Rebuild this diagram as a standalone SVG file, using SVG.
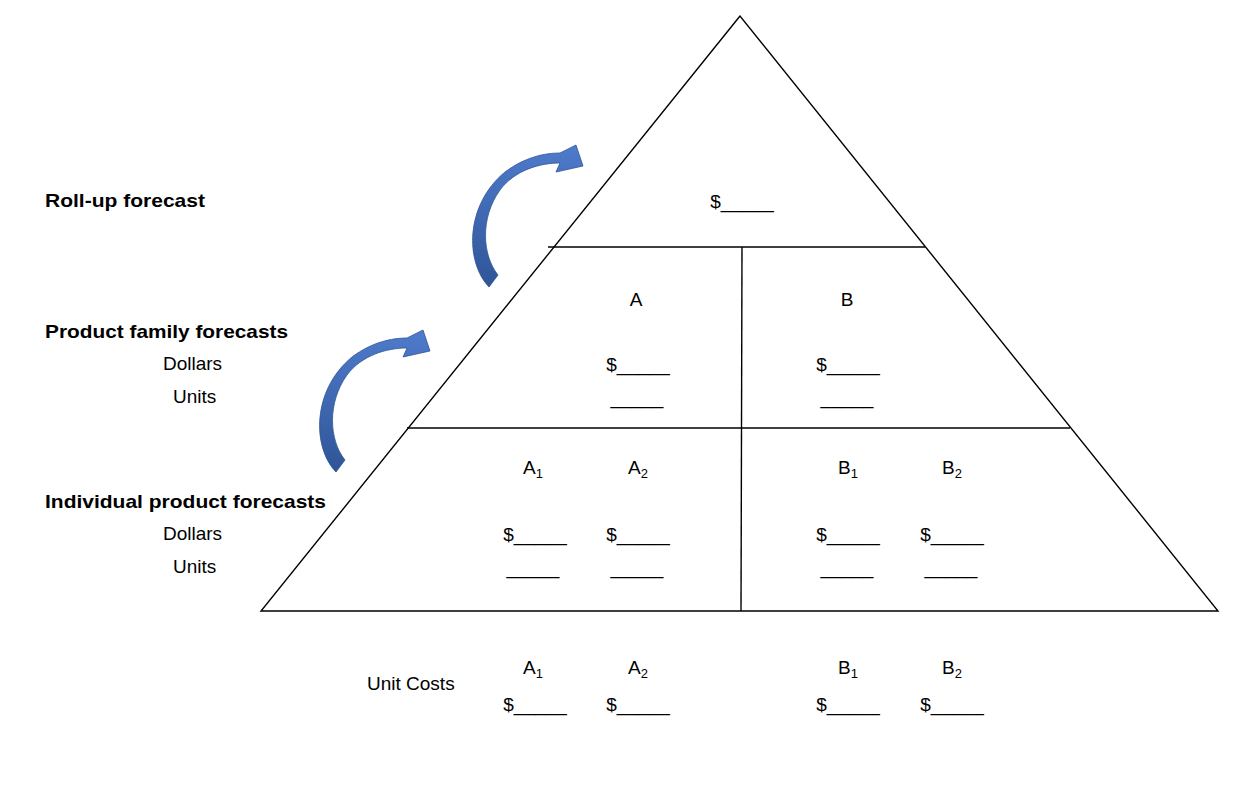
<svg xmlns="http://www.w3.org/2000/svg" width="1258" height="806" viewBox="0 0 1258 806">
<style>
text{font-family:"Liberation Sans",Arial,sans-serif;font-size:19px;fill:#000}
.c{text-anchor:middle}
.b{font-weight:bold}
.s{font-size:13px}
line,polygon.t{stroke:#000;stroke-width:1.4;fill:none}
</style>
<defs>
<linearGradient id="g" x1="0" y1="0" x2="0" y2="1">
<stop offset="0" stop-color="#4f7bcc"/><stop offset="1" stop-color="#2f5597"/>
</linearGradient>
<path id="arr" d="M489,287 C465,262 465,205 505,172 C525,157 545,153 560,153 L576,145 L583,166 L556,172 L560,163 C540,163 515,170 500,190 C480,218 482,255 498,275 Z" fill="url(#g)" stroke="#2f5597" stroke-width="0.8"/>
</defs>
<rect width="1258" height="806" fill="#fff"/>
<g id="pyramid">
<polygon class="t" points="740,16 261,611 1218,611"/>
<line x1="548" y1="247" x2="925" y2="247"/>
<line x1="407" y1="428" x2="1070" y2="428"/>
<line x1="742" y1="247" x2="741" y2="611"/>
</g>
<g id="connectors">
<use href="#arr"/>
<use href="#arr" transform="translate(-153,185)"/>
</g>
<g id="labels">
<text class="b" x="45" y="207" textLength="160" lengthAdjust="spacingAndGlyphs">Roll-up forecast</text>
<text class="b" x="45" y="338" textLength="243" lengthAdjust="spacingAndGlyphs">Product family forecasts</text>
<text x="163" y="370">Dollars</text>
<text x="173" y="403">Units</text>
<text class="b" x="45" y="508" textLength="281" lengthAdjust="spacingAndGlyphs">Individual product forecasts</text>
<text x="163" y="540">Dollars</text>
<text x="173" y="573">Units</text>
</g>
<g id="top"><text class="c" x="742" y="208">$_____</text></g>
<g id="family">
<text class="c" x="636" y="306">A</text>
<text class="c" x="847" y="306">B</text>
<text class="c" x="638" y="371">$_____</text>
<text class="c" x="848" y="371">$_____</text>
<text class="c" x="637" y="404">_____</text>
<text class="c" x="847" y="404">_____</text>
</g>
<g id="individual">
<text class="c" x="533" y="474">A<tspan class="s" dy="4">1</tspan></text>
<text class="c" x="638" y="474">A<tspan class="s" dy="4">2</tspan></text>
<text class="c" x="848" y="474">B<tspan class="s" dy="4">1</tspan></text>
<text class="c" x="952" y="474">B<tspan class="s" dy="4">2</tspan></text>
<text class="c" x="535" y="541">$_____</text>
<text class="c" x="638" y="541">$_____</text>
<text class="c" x="848" y="541">$_____</text>
<text class="c" x="952" y="541">$_____</text>
<text class="c" x="533" y="574">_____</text>
<text class="c" x="637" y="574">_____</text>
<text class="c" x="847" y="574">_____</text>
<text class="c" x="951" y="574">_____</text>
</g>
<g id="unitcosts">
<text x="367" y="690">Unit Costs</text>
<text class="c" x="533" y="674">A<tspan class="s" dy="4">1</tspan></text>
<text class="c" x="638" y="674">A<tspan class="s" dy="4">2</tspan></text>
<text class="c" x="848" y="674">B<tspan class="s" dy="4">1</tspan></text>
<text class="c" x="952" y="674">B<tspan class="s" dy="4">2</tspan></text>
<text class="c" x="535" y="711">$_____</text>
<text class="c" x="638" y="711">$_____</text>
<text class="c" x="848" y="711">$_____</text>
<text class="c" x="952" y="711">$_____</text>
</g>
</svg>
